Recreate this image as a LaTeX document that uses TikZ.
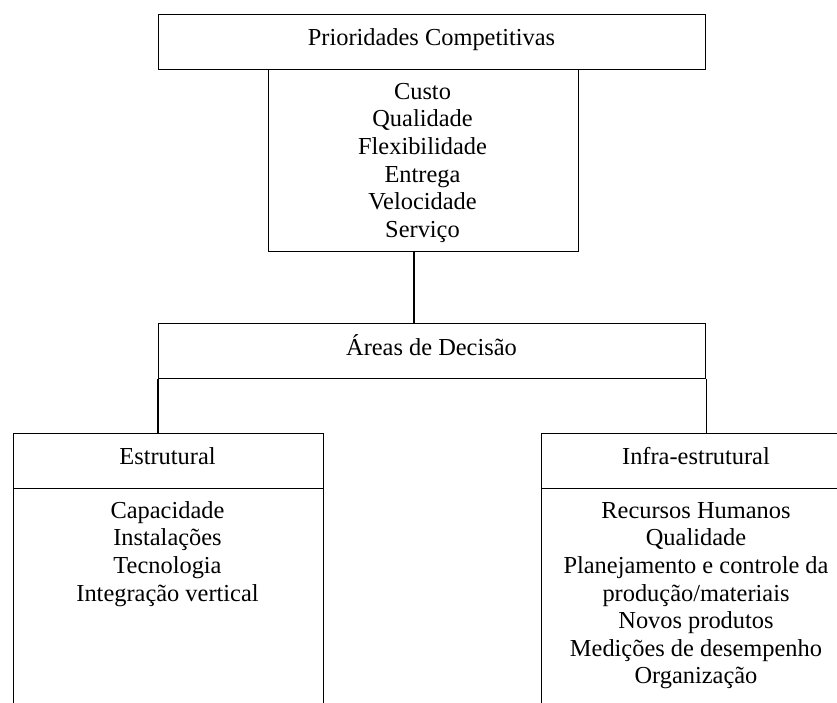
\documentclass[tikz,border=0pt]{standalone}
\usepackage{fontspec}
\setmainfont{Liberation Serif}
\begin{document}
\begin{tikzpicture}[x=1pt,y=-1pt,
  box/.style={draw=black,line width=1.1pt,rectangle,inner sep=0pt,anchor=north west},
  txt/.style={font=\fontsize{24.4}{27.6}\selectfont,inner sep=0pt,anchor=base},
  ln/.style={draw=black,line width=1.1pt}]
\useasboundingbox (0,0) rectangle (837,702);
\clip (0,0) rectangle (837,702);
\fill[white] (0,0) rectangle (837,702);
% top header
\node[box,minimum width=547pt,minimum height=54.5pt] (prio) at (158,14) {};
\node[txt] (priot) at (431.5,45) {Prioridades Competitivas};
% list box
\node[box,minimum width=310.3pt,minimum height=182pt] (list) at (267.7,68.5) {};
\foreach \t [count=\i] in {Custo,Qualidade,Flexibilidade,Entrega,Velocidade,Serviço}
  \node[txt] (p\i) at (422.5,99.3+27.6*\i-27.6) {\t};
% Areas de decisao
\node[box,minimum width=547pt,minimum height=55pt] (areas) at (158,323.3) {};
\node[txt] (areast) at (431.5,355) {Áreas de Decisão};
\coordinate (c1) at (414,250.5);
\draw[ln] (c1) -- (c1 |- areas.north);
% Estrutural
\node[box,minimum width=309.4pt,minimum height=55pt] (est) at (13.3,432.7) {};
\node[txt] (estt) at (167.5,464) {Estrutural};
\node[box,minimum width=309.4pt,minimum height=300pt] (estb) at (13.3,487.7) {};
\foreach \t [count=\i] in {Capacidade,Instalações,Tecnologia,Integração vertical}
  \node[txt] (e\i) at (167.5,518.3+27.6*\i-27.6) {\t};
% Infra-estrutural
\node[box,minimum width=311pt,minimum height=55pt] (inf) at (541,432.7) {};
\node[txt] (inft) at (696,464) {Infra-estrutural};
\node[box,minimum width=311pt,minimum height=300pt] (infb) at (541,487.7) {};
\foreach \t [count=\i] in {Recursos Humanos,Qualidade,Planejamento e controle da,produção/materiais,Novos produtos,Medições de desempenho,Organização}
  \node[txt] (r\i) at (696,518.3+27.6*\i-27.6) {\t};
% side connectors
\draw[ln] (areas.south west) -- (areas.south west |- est.north);
\draw[ln] (areas.south east) -- (areas.south east |- inf.north);
\end{tikzpicture}
\end{document}
